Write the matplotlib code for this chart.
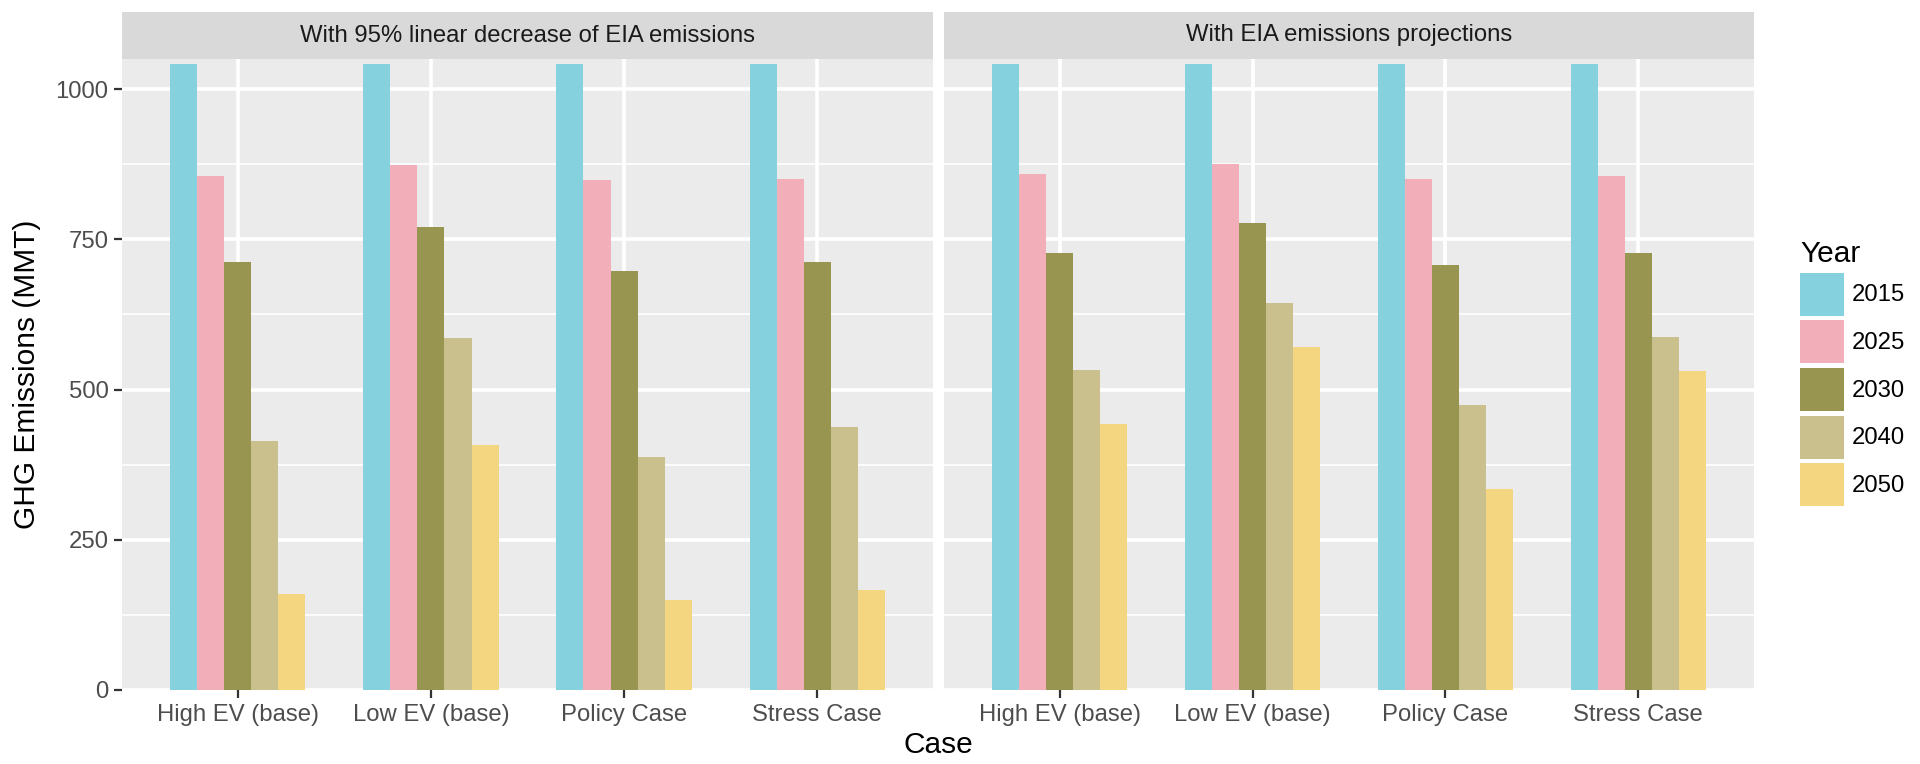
import numpy as np
import matplotlib
matplotlib.use("Agg")
import matplotlib.pyplot as plt
from matplotlib.patches import Patch
from matplotlib.ticker import MultipleLocator

plt.rcParams['font.family'] = ['Liberation Sans', 'DejaVu Sans']

# datos
cases = ["High EV (base)", "Low EV (base)", "Policy Case", "Stress Case"]
years = ["2015", "2025", "2030", "2040", "2050"]
facets = ["With 95% linear decrease of EIA emissions", "With EIA emissions projections"]

lin_2015 = [1042, 1042, 1042, 1042]
lin_2025 = [855, 874, 848, 851]
lin_2030 = [712, 771, 697, 712]
lin_2040 = [414, 586, 387, 438]
lin_2050 = [159, 408, 150, 166]

eia_2015 = [1042, 1042, 1042, 1042]
eia_2025 = [858, 875, 851, 855]
eia_2030 = [727, 777, 708, 727]
eia_2040 = [532, 644, 474, 587]
eia_2050 = [442, 571, 334, 530]

colors = ["#85D2DE", "#F2AFBA", "#989550", "#CAC08D", "#F4D680"]

panel_data = [
    [lin_2015, lin_2025, lin_2030, lin_2040, lin_2050],
    [eia_2015, eia_2025, eia_2030, eia_2040, eia_2050],
]

W, H = 1920, 764
fig = plt.figure(figsize=(W / 100, H / 100), dpi=100)
fig.patch.set_facecolor("white")

def px(x0, y0, x1, y1):
    # caja en pixeles (origen arriba a la izquierda) -> fraccion de figura
    return [x0 / W, 1 - y1 / H, (x1 - x0) / W, (y1 - y0) / H]

panels = [(122, 933), (944, 1754)]
top, strip_top, bottom = 59, 12, 690
bw = 0.14
x = np.arange(len(cases))
fs_small = 17.2

for k, (xl, xr) in enumerate(panels):
    ax = fig.add_axes(px(xl, top, xr, bottom))
    ax.set_facecolor("#EBEBEB")
    for i, vals in enumerate(panel_data[k]):
        ax.bar(x + (i - 2) * bw, vals, width=bw, color=colors[i], linewidth=0, zorder=3)
    ax.set_xlim(-0.6, 3.6)
    ax.set_ylim(0, 1050)
    ax.yaxis.set_major_locator(MultipleLocator(250))
    ax.yaxis.set_minor_locator(MultipleLocator(125))
    ax.set_xticks(x)
    ax.set_xticklabels(cases)
    ax.grid(which="major", color="white", linewidth=2.6, zorder=1)
    ax.grid(which="minor", axis="y", color="white", linewidth=1.2, zorder=1)
    for s in ax.spines.values():
        s.set_visible(False)
    ax.tick_params(axis="both", which="major", length=5.8, width=1.6, color="#333333",
                   labelsize=fs_small, labelcolor="#4D4D4D")
    ax.tick_params(axis="x", pad=4)
    ax.tick_params(axis="y", pad=4)
    ax.tick_params(which="minor", length=0)
    if k == 1:
        ax.tick_params(axis="y", left=False, labelleft=False)

    # franja del facet
    sx = fig.add_axes(px(xl, strip_top, xr, top))
    sx.set_facecolor("#D9D9D9")
    sx.set_xticks([])
    sx.set_yticks([])
    for s in sx.spines.values():
        s.set_visible(False)
    sx.text(0.5, 0.5, facets[k], ha="center", va="center", fontsize=fs_small,
            color="#1A1A1A", transform=sx.transAxes)

fig.text((122 + 1754) / 2 / W, 1 - 745 / H, "Case", ha="center", va="center", fontsize=21.5)
fig.text(27 / W, 1 - (top + bottom) / 2 / H, "GHG Emissions (MMT)", ha="center", va="center",
         rotation=90, fontsize=21.5)

handles = [Patch(facecolor=c, edgecolor="none") for c in colors]
leg = fig.legend(handles, years, loc="upper left", bbox_to_anchor=(1800 / W, 1 - 240 / H),
                 frameon=False, borderpad=0, fontsize=fs_small, title="Year", title_fontsize=21.5,
                 handlelength=1.85, handleheight=2.4, labelspacing=0.19, handletextpad=0.3,
                 alignment="left", borderaxespad=0)

fig.savefig("out.png", dpi=100, facecolor="white")
